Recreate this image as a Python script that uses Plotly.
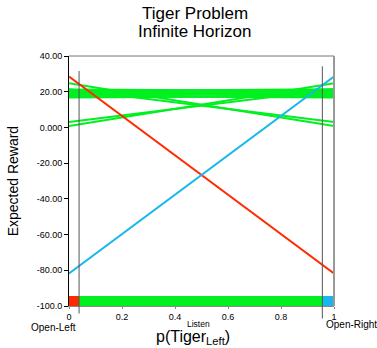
import plotly.graph_objects as go

# ---- data ----
title_lines = ["Tiger Problem", "Infinite Horizon"]
x_label = "p(Tiger<sub>Left</sub>)"
y_label = "Expected Reward"

# alpha vectors: value at p=0 and value at p=1
listen_left = [24.8, 0.8, 21.4, 3.1, 21.2, 20.4, 16.8, 17.6, 21.0, 18.0, 19.5, 18.5, 20.0, 19.0, 17.2, 19.5]
listen_right = [0.8, 24.8, 3.1, 21.4, 20.4, 21.4, 17.6, 16.8, 18.0, 21.2, 18.5, 19.8, 19.0, 20.2, 19.5, 17.2]
open_left_vec = [28.5, -81.8]
open_right_vec = [-81.8, 28.5]

region_edges = [0.0, 0.038, 0.956, 1.0]
region_names = ["Open-Left", "Listen", "Open-Right"]
region_colors = ["#ff2a00", "#00f020", "#18b6ee"]
bar_height = 5.5

y_tickvals = [40, 20, 0, -20, -40, -60, -80, -100]
y_ticktext = ["40.00", "20.00", "0.000", "-20.00", "-40.00", "-60.00", "-80.00", "-100.0"]
x_tickvals = [0, 0.2, 0.4, 0.6, 0.8, 1]
x_ticktext = ["0", "0.2", "0.4", "0.6", "0.8", "1"]

GREEN, RED, BLUE = "#00f020", "#ff2a00", "#18b6ee"
FONT = "Liberation Sans, Arial, sans-serif"

fig = go.Figure()

# policy regions bar at the bottom
mids = [(a + b) / 2 for a, b in zip(region_edges[:-1], region_edges[1:])]
widths = [b - a for a, b in zip(region_edges[:-1], region_edges[1:])]
fig.add_trace(go.Bar(x=mids, y=[bar_height] * 3, base=-100, width=widths,
                     marker=dict(color=region_colors, line=dict(width=0)),
                     showlegend=False, hoverinfo="skip"))

for a, b in zip(listen_left, listen_right):
    fig.add_trace(go.Scatter(x=[0, 1], y=[a, b], mode="lines",
                             line=dict(color=GREEN, width=2), showlegend=False))
fig.add_trace(go.Scatter(x=[0, 1], y=open_left_vec, mode="lines",
                         line=dict(color=RED, width=2), showlegend=False))
fig.add_trace(go.Scatter(x=[0, 1], y=open_right_vec, mode="lines",
                         line=dict(color=BLUE, width=2), showlegend=False))

shapes = []
# decision boundaries (x range is [0,1], so paper x == data x)
bounds = region_edges[1:-1]
tops = [0.94, 0.959]
bots = [-0.03, -0.05]
for xb, t, bt in zip(bounds, tops, bots):
    shapes.append(dict(type="line", xref="paper", yref="paper", x0=xb, x1=xb, y0=bt, y1=t,
                       line=dict(color="#555555", width=1)))
# frame top & right
shapes.append(dict(type="line", xref="paper", yref="paper", x0=0, x1=1, y0=1, y1=1,
                   line=dict(color="#777777", width=1)))
shapes.append(dict(type="line", xref="paper", yref="paper", x0=1, x1=1, y0=0, y1=1,
                   line=dict(color="#999999", width=2)))

annotations = [
    dict(text=title_lines[0], xref="paper", yref="paper", x=0.475, y=1.169, showarrow=False,
         font=dict(size=17, color="black", family=FONT), xanchor="center", yanchor="middle"),
    dict(text=title_lines[1], xref="paper", yref="paper", x=0.475, y=1.099, showarrow=False,
         font=dict(size=17, color="black", family=FONT), xanchor="center", yanchor="middle"),
    dict(text=region_names[0], xref="paper", yref="paper", x=-0.06, y=-0.084, showarrow=False,
         font=dict(size=10, color="black", family=FONT), xanchor="center", yanchor="middle"),
    dict(text=region_names[1], xref="paper", yref="paper", x=0.489, y=-0.073, showarrow=False,
         font=dict(size=8.5, color="black", family=FONT), xanchor="center", yanchor="middle"),
    dict(text=region_names[2], xref="paper", yref="paper", x=1.065, y=-0.072, showarrow=False,
         font=dict(size=10, color="black", family=FONT), xanchor="center", yanchor="middle"),
    dict(text=x_label, xref="paper", yref="paper", x=0.468, y=-0.125, showarrow=False,
         font=dict(size=16, color="black", family=FONT), xanchor="center", yanchor="middle"),
    dict(text=y_label, xref="paper", yref="paper", x=-0.21, y=0.5, showarrow=False, textangle=-90,
         font=dict(size=14, color="black", family=FONT), xanchor="center", yanchor="middle"),
]

fig.update_layout(
    width=377, height=348,
    margin=dict(l=69, r=43, t=56, b=42),
    paper_bgcolor="white", plot_bgcolor="white",
    font=dict(family=FONT, color="black"),
    bargap=0,
    shapes=shapes, annotations=annotations,
    xaxis=dict(range=[0, 1], tickvals=x_tickvals, ticktext=x_ticktext, showgrid=False,
               zeroline=False, showline=True, linecolor="#888888", linewidth=1,
               ticks="outside", ticklen=2, tickcolor="#888888",
               tickfont=dict(size=9, family=FONT)),
    yaxis=dict(range=[-100, 40], tickvals=y_tickvals, ticktext=y_ticktext, showgrid=False,
               zeroline=False, showline=True, linecolor="black", linewidth=1,
               ticks="outside", ticklen=4, tickcolor="black",
               tickfont=dict(size=9, family=FONT)),
)

fig.write_html("out.html", config={"displayModeBar": False},
               post_script="document.body.style.margin='0';document.body.style.overflow='hidden';")
